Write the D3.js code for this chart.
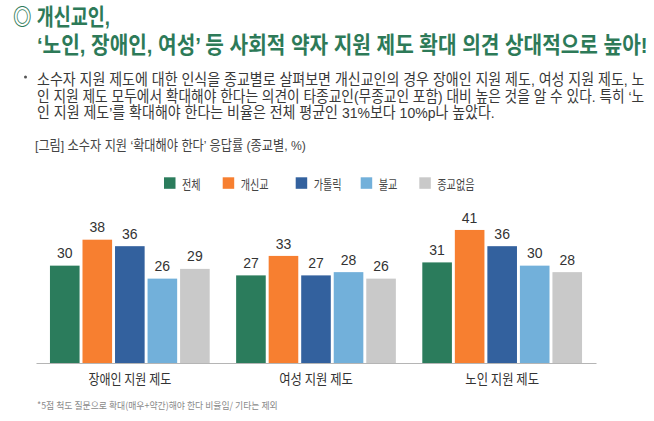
<!DOCTYPE html>
<html><head><meta charset="utf-8">
<script src="https://cdn.jsdelivr.net/npm/d3@7/dist/d3.min.js"></script>
<style>
html,body{margin:0;padding:0;background:#fff;}
svg{display:block;}
</style></head>
<body>
<svg id="chart" width="654" height="421"></svg>
<script>
const titleLines = ["◎ 개신교인,", "‘노인, 장애인, 여성’ 등 사회적 약자 지원 제도 확대 의견 상대적으로 높아!"];
const bodyLines = [
  "소수자 지원 제도에 대한 인식을 종교별로 살펴보면 개신교인의 경우 장애인 지원 제도, 여성 지원 제도, 노",
  "인 지원 제도 모두에서 확대해야 한다는 의견이 타종교인(무종교인 포함) 대비 높은 것을 알 수 있다. 특히 ‘노",
  "인 지원 제도’를 확대해야 한다는 비율은 전체 평균인 31%보다 10%p나 높았다."
];
const captionText = "[그림] 소수자 지원 ‘확대해야 한다’ 응답률 (종교별, %)";
const footnoteText = "*5점 척도 질문으로 확대(매우+약간)해야 한다 비율임/ 기타는 제외";
const categories = ["장애인 지원 제도", "여성 지원 제도", "노인 지원 제도"];
const seriesNames = ["전체", "개신교", "가톨릭", "불교", "종교없음"];
const seriesColors = ["#2b7c5c", "#f77f30", "#33619e", "#72b0da", "#c9c9c9"];
const values = {
  "전체":   [30, 27, 31],
  "개신교": [38, 33, 41],
  "가톨릭": [36, 27, 36],
  "불교":   [26, 28, 30],
  "종교없음": [29, 26, 28]
};

const svg = d3.select("#chart");
const KR = "'Noto Sans CJK KR','Noto Sans',sans-serif";
const KRL = "'Liberation Sans','Noto Sans CJK KR',sans-serif";

// horizontally compress a text to a target width using a transform (keeps bbox honest)
function fitScale(sel, x, w) {
  const n = sel.node().getComputedTextLength();
  const k = w / n;
  sel.attr("x", 0).attr("transform", `translate(${x},0) scale(${k},1)`);
  return k;
}
function scaleBy(sel, x, k) {
  sel.attr("x", 0).attr("transform", `translate(${x},0) scale(${k},1)`);
}

// Title
const titleColor = "#2d7a58";
const t1 = svg.append("text").attr("y", 25.5)
  .attr("font-family", KRL).attr("font-weight", 700).attr("font-size", 23).attr("fill", titleColor)
  .text(titleLines[0]);
fitScale(t1, 13, 97);
const t2 = svg.append("text").attr("y", 52.5)
  .attr("font-family", KRL).attr("font-weight", 700).attr("font-size", 23).attr("fill", titleColor)
  .text(titleLines[1]);
fitScale(t2, 37, 611);

// Body
svg.append("circle").attr("cx", 25.5).attr("cy", 77).attr("r", 1.5).attr("fill", "#555");
const bodyY = [85, 102, 118.5];
let ratio = null;
bodyLines.forEach((s, i) => {
  const t = svg.append("text").attr("y", bodyY[i])
    .attr("font-family", KRL).attr("font-size", 15.5).attr("fill", "#383838").text(s);
  if (i === 0) ratio = fitScale(t, 37, 608);
  else if (i === 1) fitScale(t, 37, 608);
  else scaleBy(t, 37, ratio);
});

// Caption
const cap = svg.append("text").attr("y", 150)
  .attr("font-family", KRL).attr("font-size", 13.5).attr("fill", "#444").text(captionText);
fitScale(cap, 35, 271);

// Legend
const legendX = [164, 222.7, 295.7, 360.7, 419.3];
const leg = svg.append("g");
seriesNames.forEach((n, i) => {
  leg.append("rect").attr("x", legendX[i]).attr("y", 177.3).attr("width", 11.5).attr("height", 11.5)
    .attr("fill", seriesColors[i]);
  const t = leg.append("text").attr("y", 183).attr("dominant-baseline", "central")
    .attr("font-family", KR).attr("font-size", 13).attr("fill", "#444").text(n);
  scaleBy(t, legendX[i] + 18, 0.78);
});

// Chart
const x0 = d3.scaleBand().domain(categories).range([36, 596]).paddingInner(0.142).paddingOuter(0.075);
const x1 = d3.scaleBand().domain(seriesNames).range([0, x0.bandwidth()]).paddingInner(0.09).paddingOuter(0);
const y = d3.scaleLinear().domain([0, 44]).range([363, 363 - 44 * 3.245]);
const color = d3.scaleOrdinal().domain(seriesNames).range(seriesColors);

const groups = svg.append("g").selectAll("g").data(categories).join("g")
  .attr("transform", d => `translate(${x0(d)},0)`);
groups.selectAll("rect").data((d, ci) => seriesNames.map(s => ({ s, v: values[s][ci] }))).join("rect")
  .attr("x", d => x1(d.s)).attr("width", x1.bandwidth())
  .attr("y", d => y(d.v)).attr("height", d => y(0) - y(d.v))
  .attr("fill", d => color(d.s));
groups.selectAll("text.val").data((d, ci) => seriesNames.map(s => ({ s, v: values[s][ci] }))).join("text")
  .attr("class", "val")
  .attr("x", d => x1(d.s) + x1.bandwidth() / 2).attr("y", d => y(d.v) - 7.4)
  .attr("text-anchor", "middle").attr("font-family", "'Liberation Sans',Arial,sans-serif")
  .attr("font-size", 14).attr("fill", "#333").text(d => d.v);

// Axis
const xAxis = d3.axisBottom(x0).tickSize(0).tickPadding(0);
const ax = svg.append("g").attr("transform", "translate(0,363)").call(xAxis);
ax.select(".domain").attr("stroke", "#b5b5b5").attr("stroke-width", 1.2);
ax.selectAll(".tick text").attr("y", 15).attr("dy", null).attr("dominant-baseline", "central")
  .attr("font-family", KR).attr("font-size", 13.5).attr("fill", "#333")
  .each(function () {
    const n = this.getComputedTextLength();
    d3.select(this).attr("transform", `scale(${83 / n * (this.textContent.length / 9)},1)`);
  });

// Footnote
const fn = svg.append("text").attr("y", 405).attr("dominant-baseline", "central")
  .attr("font-family", KR).attr("font-size", 9.5).attr("fill", "#8a8a8a").text(footnoteText);
fitScale(fn, 37, 241);
</script>
</body></html>
